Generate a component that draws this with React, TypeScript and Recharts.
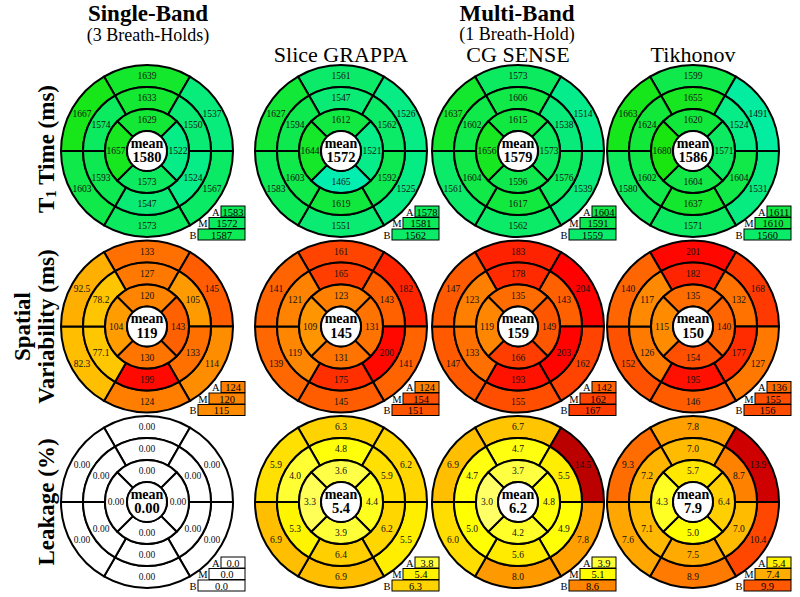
import React from "react";
import { PieChart, Pie, Cell } from "recharts";

const W = 800;
const H = 597;
const FONT = '"Liberation Serif", "Times New Roman", serif';

const METHODS = ["Single-Band", "Slice GRAPPA", "CG SENSE", "Tikhonov"];
const LEVELS = ["A", "M", "B"];

// every ring is listed from the top segment, going clockwise
// inner ring: top, right, bottom, left
const T1_OUTER = [
  [1639, 1537, 1567, 1573, 1603, 1667],
  [1561, 1526, 1525, 1551, 1583, 1627],
  [1573, 1514, 1539, 1562, 1561, 1637],
  [1599, 1491, 1531, 1571, 1580, 1663],
];
const T1_MIDDLE = [
  [1633, 1550, 1524, 1547, 1593, 1574],
  [1547, 1562, 1592, 1619, 1603, 1594],
  [1606, 1538, 1576, 1617, 1604, 1602],
  [1655, 1524, 1604, 1637, 1602, 1624],
];
const T1_INNER = [
  [1629, 1522, 1573, 1657],
  [1612, 1521, 1465, 1644],
  [1615, 1573, 1596, 1656],
  [1620, 1571, 1604, 1680],
];
const T1_MEAN = [1580, 1572, 1579, 1586];
const T1_AMB = [
  [1583, 1572, 1587],
  [1578, 1581, 1562],
  [1604, 1591, 1559],
  [1611, 1610, 1560],
];

const VAR_OUTER = [
  [133, 145, 114, 124, 82.3, 92.5],
  [161, 182, 141, 145, 139, 141],
  [183, 204, 162, 155, 147, 147],
  [201, 168, 127, 146, 152, 140],
];
const VAR_MIDDLE = [
  [127, 105, 133, 199, 77.1, 78.2],
  [165, 143, 200, 175, 119, 121],
  [178, 143, 203, 193, 133, 123],
  [182, 132, 177, 195, 126, 117],
];
const VAR_INNER = [
  [120, 143, 130, 104],
  [123, 131, 131, 109],
  [135, 149, 166, 119],
  [135, 140, 154, 115],
];
const VAR_MEAN = [119, 145, 159, 150];
const VAR_AMB = [
  [124, 120, 115],
  [124, 154, 151],
  [142, 162, 167],
  [136, 155, 156],
];

const LEAK_OUTER = [
  [0, 0, 0, 0, 0, 0],
  [6.3, 6.2, 5.5, 6.9, 6.9, 5.9],
  [6.7, 14.5, 7.8, 8.0, 6.0, 6.9],
  [7.8, 13.9, 10.4, 8.9, 7.6, 9.3],
];
const LEAK_MIDDLE = [
  [0, 0, 0, 0, 0, 0],
  [4.8, 5.9, 6.2, 6.4, 5.3, 4.0],
  [4.7, 5.5, 4.9, 5.6, 5.0, 4.7],
  [7.0, 8.7, 7.0, 7.5, 7.1, 7.2],
];
const LEAK_INNER = [
  [0, 0, 0, 0],
  [3.6, 4.4, 3.9, 3.3],
  [3.7, 4.8, 4.2, 3.0],
  [5.7, 6.4, 5.0, 4.3],
];
const LEAK_MEAN = [0, 5.4, 6.2, 7.9];
const LEAK_AMB = [
  [0, 0, 0],
  [3.8, 5.4, 6.3],
  [3.9, 5.1, 8.6],
  [5.4, 7.4, 9.9],
];

// layout
const COL_X = [147, 341, 518, 693];
const ROW_Y = [151, 326.5, 502];
const R_CENTER = 20;
const R_INNER = 42;
const R_MIDDLE = 64;
const R_OUTER = 86;
const BOX_LEFT = [74, 62, 51];
const BOX_RIGHT = 98;
const BOX_TOP = [55, 66.5, 78];
const BOX_H = 11;

const clamp = (v: number) => Math.max(0, Math.min(1, v));
const rgb = (r: number, g: number, b: number) =>
  `rgb(${Math.round(r)},${Math.round(g)},${Math.round(b)})`;

// reversed "hot": white -> yellow -> red -> dark red
const hotR = (t: number) =>
  rgb(
    255 * clamp(1 - (t - 0.625) / 0.375),
    255 * clamp(1 - (t - 0.25) / 0.375),
    255 * clamp(1 - t / 0.25)
  );

const t1Color = (v: number) => {
  const t = clamp((v - 1470) / 215);
  return rgb(25 * t, 238 - 8 * t, 175 - 165 * t);
};
const varColor = (v: number) => hotR(0.25 + (0.375 * (v - 41)) / 164);
const leakColor = (v: number) => hotR(v / 20);

const fmtInt = (v: number) => String(Math.round(v));
const fmtVar = (v: number) => (v < 100 ? v.toFixed(1) : String(Math.round(v)));
const fmtLeak = (v: number) => (v === 0 ? "0.00" : v.toFixed(1));
const fmtLeakBox = (v: number) => v.toFixed(1);

const ROWS = [
  { outer: T1_OUTER, middle: T1_MIDDLE, inner: T1_INNER, mean: T1_MEAN, amb: T1_AMB, color: t1Color, seg: fmtInt, box: fmtInt },
  { outer: VAR_OUTER, middle: VAR_MIDDLE, inner: VAR_INNER, mean: VAR_MEAN, amb: VAR_AMB, color: varColor, seg: fmtVar, box: fmtInt },
  { outer: LEAK_OUTER, middle: LEAK_MIDDLE, inner: LEAK_INNER, mean: LEAK_MEAN, amb: LEAK_AMB, color: leakColor, seg: fmtLeak, box: fmtLeakBox },
];

const RADIAN = Math.PI / 180;

const ringLabel = (fmt: (v: number) => string) => (p: any) => {
  const r = (p.innerRadius + p.outerRadius) / 2;
  const x = p.cx + r * Math.cos(-p.midAngle * RADIAN);
  const y = p.cy + r * Math.sin(-p.midAngle * RADIAN);
  const reading = p.payload?.reading ?? p.reading;
  return (
    <text
      x={x}
      y={y}
      textAnchor="middle"
      dominantBaseline="central"
      fontSize={9.5}
      fontFamily={FONT}
      fill="#111"
    >
      {fmt(reading)}
    </text>
  );
};

const ring = (
  key: string,
  values: number[],
  cx: number,
  cy: number,
  inner: number,
  outer: number,
  start: number,
  color: (v: number) => string,
  fmt: (v: number) => string
) => (
  <Pie
    key={key}
    data={values.map((v, i) => ({ name: `${key}-${i}`, reading: v, size: 1 }))}
    dataKey="size"
    nameKey="name"
    cx={cx}
    cy={cy}
    innerRadius={inner}
    outerRadius={outer}
    startAngle={start}
    endAngle={start - 360}
    stroke="#000"
    strokeWidth={2}
    labelLine={false}
    label={ringLabel(fmt)}
    isAnimationActive={false}
  >
    {values.map((v, i) => (
      <Cell key={i} fill={color(v)} stroke="#000" strokeWidth={2} />
    ))}
  </Pie>
);

export default function App() {
  const pies: React.ReactNode[] = [];
  ROWS.forEach((row, ri) => {
    COL_X.forEach((cx, ci) => {
      const cy = ROW_Y[ri];
      const k = `p${ri}-${ci}`;
      pies.push(ring(`${k}-o`, row.outer[ci], cx, cy, R_MIDDLE, R_OUTER, 120, row.color, row.seg));
      pies.push(ring(`${k}-m`, row.middle[ci], cx, cy, R_INNER, R_MIDDLE, 120, row.color, row.seg));
      pies.push(ring(`${k}-i`, row.inner[ci], cx, cy, R_CENTER, R_INNER, 135, row.color, row.seg));
    });
  });

  return (
    <div style={{ position: "absolute", left: 0, top: 0, width: W, height: H, background: "#fff" }}>
      <PieChart width={W} height={H} margin={{ top: 0, right: 0, bottom: 0, left: 0 }}>
        {pies}
      </PieChart>
      <svg
        width={W}
        height={H}
        style={{ position: "absolute", left: 0, top: 0, pointerEvents: "none" }}
        fontFamily={FONT}
      >
        <text x={148} y={21} textAnchor="middle" fontSize={23} fontWeight="bold">
          {METHODS[0]}
        </text>
        <text x={148} y={41} textAnchor="middle" fontSize={18}>
          (3 Breath-Holds)
        </text>
        <text x={517} y={21} textAnchor="middle" fontSize={23} fontWeight="bold">
          Multi-Band
        </text>
        <text x={517} y={40} textAnchor="middle" fontSize={18}>
          (1 Breath-Hold)
        </text>
        {METHODS.slice(1).map((m, i) => (
          <text key={m} x={COL_X[i + 1]} y={62} textAnchor="middle" fontSize={22}>
            {m}
          </text>
        ))}

        <text
          transform={`translate(46, ${ROW_Y[0] - 2}) rotate(-90)`}
          textAnchor="middle"
          dominantBaseline="central"
          fontSize={23}
          fontWeight="bold"
        >
          <tspan>T</tspan>
          <tspan fontSize={15} dy={5}>1</tspan>
          <tspan dy={-5}> Time (ms)</tspan>
        </text>
        <text
          transform={`translate(22, ${ROW_Y[1]}) rotate(-90)`}
          textAnchor="middle"
          dominantBaseline="central"
          fontSize={23}
          fontWeight="bold"
        >
          Spatial
        </text>
        <text
          transform={`translate(46, ${ROW_Y[1]}) rotate(-90)`}
          textAnchor="middle"
          dominantBaseline="central"
          fontSize={23}
          fontWeight="bold"
        >
          Variability (ms)
        </text>
        <text
          transform={`translate(46, ${ROW_Y[2]}) rotate(-90)`}
          textAnchor="middle"
          dominantBaseline="central"
          fontSize={23}
          fontWeight="bold"
        >
          Leakage (%)
        </text>

        {ROWS.map((row, ri) =>
          COL_X.map((cx, ci) => {
            const cy = ROW_Y[ri];
            const meanText = ri === 2 && row.mean[ci] === 0 ? "0.00" : ri === 2 ? row.mean[ci].toFixed(1) : fmtInt(row.mean[ci]);
            return (
              <g key={`c${ri}-${ci}`}>
                <circle cx={cx} cy={cy} r={R_CENTER} fill="#fff" stroke="#000" strokeWidth={2} />
                <text x={cx} y={cy - 3.5} textAnchor="middle" fontSize={14} fontWeight="bold">
                  mean
                </text>
                <text x={cx} y={cy + 11} textAnchor="middle" fontSize={14.5} fontWeight="bold">
                  {meanText}
                </text>
                {row.amb[ci].map((v, li) => {
                  const left = cx + BOX_LEFT[li];
                  const right = cx + BOX_RIGHT;
                  const top = cy + BOX_TOP[li];
                  return (
                    <g key={li}>
                      <rect
                        x={left}
                        y={top}
                        width={right - left}
                        height={BOX_H}
                        fill={row.color(v)}
                        stroke="#000"
                        strokeWidth={1}
                      />
                      <text
                        x={(left + right) / 2}
                        y={top + BOX_H / 2 + 0.5}
                        textAnchor="middle"
                        dominantBaseline="central"
                        fontSize={10.5}
                      >
                        {row.box(v)}
                      </text>
                      <text
                        x={left - 1.5}
                        y={top + BOX_H / 2 + 0.5}
                        textAnchor="end"
                        dominantBaseline="central"
                        fontSize={10.5}
                      >
                        {LEVELS[li]}
                      </text>
                    </g>
                  );
                })}
              </g>
            );
          })
        )}
      </svg>
    </div>
  );
}
